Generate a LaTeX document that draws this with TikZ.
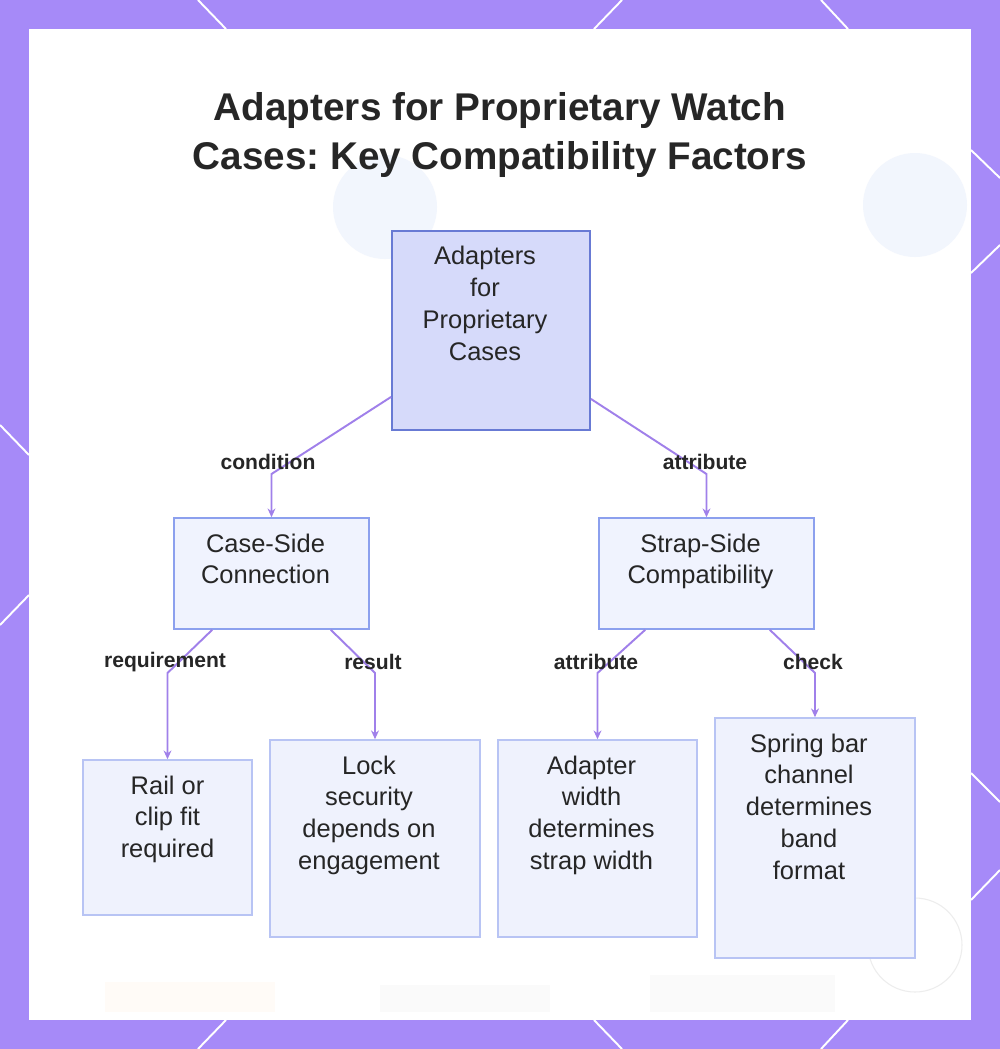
\documentclass[tikz,border=0pt]{standalone}
\usepackage{fontspec}
\setmainfont{Liberation Sans}
\frenchspacing
\usetikzlibrary{arrows.meta, calc}
\definecolor{framepurple}{RGB}{166,138,248}
\definecolor{linkpurple}{RGB}{160,128,234}
\definecolor{rootfill}{RGB}{214,218,250}
\definecolor{rootdraw}{RGB}{104,122,212}
\definecolor{midfill}{RGB}{240,243,254}
\definecolor{middraw}{RGB}{140,160,238}
\definecolor{leaffill}{RGB}{239,242,253}
\definecolor{leafdraw}{RGB}{184,196,244}
\definecolor{ghostblue}{RGB}{242,246,253}
\definecolor{textdark}{RGB}{38,38,38}

\tikzset{
	box/.style={draw, rectangle, inner sep=0pt},
	rootbox/.style={box, fill=rootfill, draw=rootdraw, line width=1.1pt, minimum width=3.96cm, minimum height=3.98cm},
	midbox/.style={box, fill=midfill, draw=middraw, line width=0.9pt, minimum height=2.22cm},
	leafbox/.style={box, fill=leaffill, draw=leafdraw, line width=0.9pt},
	boxtext/.style={anchor=north, inner sep=0pt, align=center, text=textdark, font=\fontsize{14.5}{18.1}\selectfont, yshift=-0.32cm, xshift=-0.12cm},
	link/.style={linkpurple, line width=1.1pt, -{Stealth[length=5pt, width=4.5pt]}},
	linklabel/.style={font=\fontsize{12}{14}\selectfont\bfseries, text=textdark, inner sep=1pt},
	hexline/.style={white, line width=1.1pt},
}

\begin{document}
\begin{tikzpicture}[x=0.02cm, y=-0.02cm]

	\useasboundingbox (0,0) rectangle (1000,1049);

	% Frame and hex pattern
	\fill[framepurple] (0,0) rectangle (1000,1049);
	\draw[hexline] (198,0) -- (226,29);
	\draw[hexline] (622,0) -- (594,29);
	\draw[hexline] (821,0) -- (848,29);
	\draw[hexline] (198,1049) -- (226,1020);
	\draw[hexline] (622,1049) -- (594,1020);
	\draw[hexline] (821,1049) -- (848,1020);
	\draw[hexline] (0,425) -- (29,455);
	\draw[hexline] (0,625) -- (29,595);
	\draw[hexline] (971,150) -- (1000,178);
	\draw[hexline] (971,273) -- (1000,245);
	\draw[hexline] (971,773) -- (1000,802);
	\draw[hexline] (971,900) -- (1000,870);
	\fill[white] (29,29) rectangle (971,1020);

	% Faded page behind
	\begin{scope}
		\clip (29,29) rectangle (971,1020);
		\fill[ghostblue] (385,207) circle (52);
		\fill[ghostblue] (915,205) circle (52);
		\fill[orange!3] (105,982) rectangle (275,1012);
		\fill[black!2] (380,985) rectangle (550,1012);
		\fill[black!2] (650,975) rectangle (835,1012);
		\draw[black!7, line width=0.6pt] (915,945) circle (47);
	\end{scope}

	% Title
	\node[align=center, text=textdark, font=\fontsize{22}{28.3}\selectfont\bfseries] (title) at (500,135) {Adapters for Proprietary Watch\\Cases: Key Compatibility Factors};

	% Boxes
	\node[rootbox] (root) at (491,330.5) {};
	\node[midbox, minimum width=3.9cm] (case) at (271.5,573.5) {};
	\node[midbox, minimum width=4.3cm] (strap) at (706.5,573.5) {};
	\node[leafbox, minimum width=3.38cm, minimum height=3.1cm] (rail) at (167.5,837.5) {};
	\node[leafbox, minimum width=4.2cm, minimum height=3.94cm] (lock) at (375,838.5) {};
	\node[leafbox, minimum width=3.98cm, minimum height=3.94cm] (adapter) at (597.5,838.5) {};
	\node[leafbox, minimum width=4.0cm, minimum height=4.8cm] (spring) at (815,838) {};

	% Box texts
	\node[boxtext] (roottxt) at (root.north) {Adapters\\for\\Proprietary\\Cases};
	\node[boxtext] (casetxt) at (case.north) {Case-Side\\Connection};
	\node[boxtext] (straptxt) at (strap.north) {Strap-Side\\Compatibility};
	\node[boxtext, xshift=0.12cm] (railtxt) at (rail.north) {Rail or\\clip fit\\required};
	\node[boxtext] (locktxt) at (lock.north) {Lock\\security\\depends on\\engagement};
	\node[boxtext] (adaptertxt) at (adapter.north) {Adapter\\width\\determines\\strap width};
	\node[boxtext] (springtxt) at (spring.north) {Spring bar\\channel\\determines\\band\\format};

	% Links
	\coordinate (lvl1) at (0,474);
	\coordinate (lvl2) at (0,673);
	\draw[link] ($(root.south west)+(0,-34)$) -- (case.north |- lvl1) -- (case.north);
	\draw[link] ($(root.south east)+(0,-32)$) -- (strap.north |- lvl1) -- (strap.north);
	\draw[link] ($(case.south west)+(39,0)$) -- (rail.north |- lvl2) -- (rail.north);
	\draw[link] ($(case.south east)+(-39,0)$) -- (lock.north |- lvl2) -- (lock.north);
	\draw[link] ($(strap.south west)+(47,0)$) -- (adapter.north |- lvl2) -- (adapter.north);
	\draw[link] ($(strap.south east)+(-45,0)$) -- (spring.north |- lvl2) -- (spring.north);

	% Link labels
	\node[linklabel] (lcond) at (268,462) {condition};
	\node[linklabel] (lattr) at (705,462) {attribute};
	\node[linklabel] (lreq) at (165,662) {requirement};
	\node[linklabel] (lres) at (373,662) {result};
	\node[linklabel] (lattrb) at (596,662) {attribute};
	\node[linklabel] (lcheck) at (813,662) {check};

\end{tikzpicture}
\end{document}
